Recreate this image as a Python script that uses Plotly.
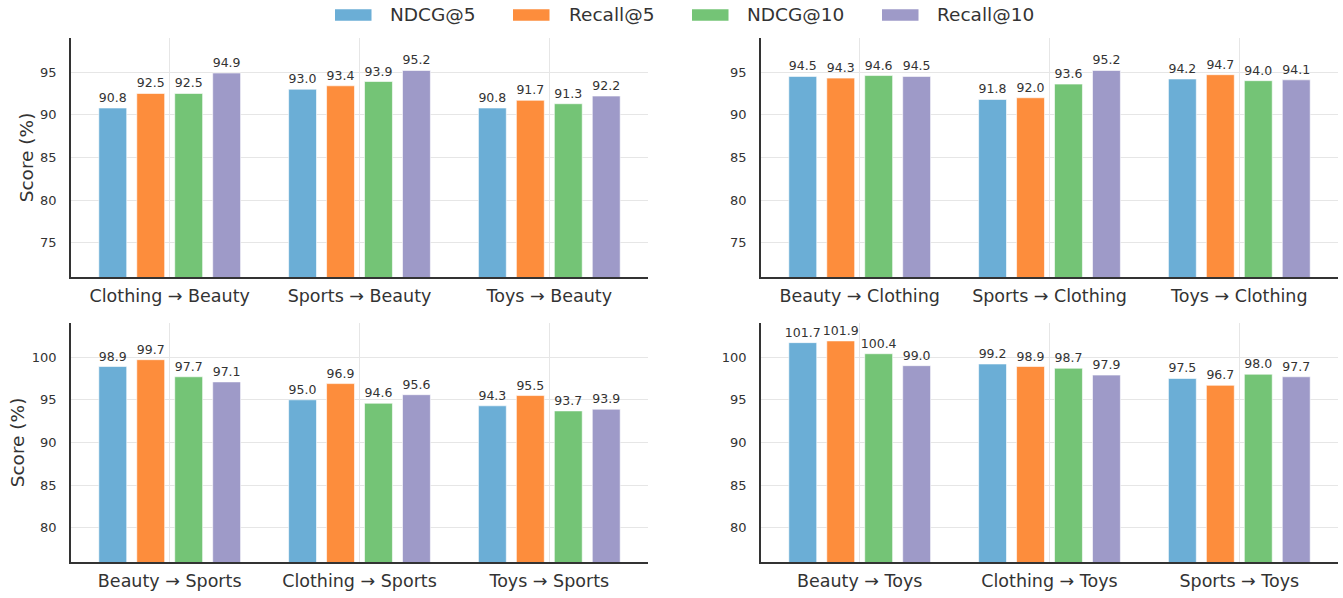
import plotly.graph_objects as go

# ---- data -------------------------------------------------------------
metrics = ["NDCG@5", "Recall@5", "NDCG@10", "Recall@10"]
colors = ["#6baed6", "#fd8d3c", "#74c476", "#9e9ac8"]

beauty_cats = ["Clothing → Beauty", "Sports → Beauty", "Toys → Beauty"]
beauty_ndcg5 = [90.8, 93.0, 90.8]
beauty_recall5 = [92.5, 93.4, 91.7]
beauty_ndcg10 = [92.5, 93.9, 91.3]
beauty_recall10 = [94.9, 95.2, 92.2]

clothing_cats = ["Beauty → Clothing", "Sports → Clothing", "Toys → Clothing"]
clothing_ndcg5 = [94.5, 91.8, 94.2]
clothing_recall5 = [94.3, 92.0, 94.7]
clothing_ndcg10 = [94.6, 93.6, 94.0]
clothing_recall10 = [94.5, 95.2, 94.1]

sports_cats = ["Beauty → Sports", "Clothing → Sports", "Toys → Sports"]
sports_ndcg5 = [98.9, 95.0, 94.3]
sports_recall5 = [99.7, 96.9, 95.5]
sports_ndcg10 = [97.7, 94.6, 93.7]
sports_recall10 = [97.1, 95.6, 93.9]

toys_cats = ["Beauty → Toys", "Clothing → Toys", "Sports → Toys"]
toys_ndcg5 = [101.7, 99.2, 97.5]
toys_recall5 = [101.9, 98.9, 96.7]
toys_ndcg10 = [100.4, 98.7, 98.0]
toys_recall10 = [99.0, 97.9, 97.7]

top_ticks = [75, 80, 85, 90, 95]
bottom_ticks = [80, 85, 90, 95, 100]

# ---- figure geometry (pixels) ----------------------------------------
W, H = 1343, 598
FONT = "DejaVu Sans"
TXT = "#333333"

panels = [
    # (cats, series, axis suffix, x px span, y px span, y range, ticks, y title)
    (beauty_cats, [beauty_ndcg5, beauty_recall5, beauty_ndcg10, beauty_recall10],
     "", (71, 648), (38, 277), [71, 99], top_ticks, True),
    (clothing_cats, [clothing_ndcg5, clothing_recall5, clothing_ndcg10, clothing_recall10],
     "2", (761, 1338), (38, 277), [71, 99], top_ticks, False),
    (sports_cats, [sports_ndcg5, sports_recall5, sports_ndcg10, sports_recall10],
     "3", (71, 648), (323, 562), [76, 104], bottom_ticks, True),
    (toys_cats, [toys_ndcg5, toys_recall5, toys_ndcg10, toys_recall10],
     "4", (761, 1338), (323, 562), [76, 104], bottom_ticks, False),
]

fig = go.Figure()
layout = {}

for cats, series, sfx, (x0, x1), (y0, y1), yr, ticks, ytitle in panels:
    for name, vals, col in zip(metrics, series, colors):
        fig.add_trace(go.Bar(
            x=cats, y=vals, name=name, showlegend=False,
            xaxis="x" + sfx, yaxis="y" + sfx,
            marker=dict(color=col, line=dict(color="rgba(255,255,255,0.6)", width=1)),
            text=[f"{v:.1f}" for v in vals], textposition="outside",
            constraintext="none",
            textfont=dict(family=FONT, size=12.5, color=TXT),
            cliponaxis=False,
        ))
    layout["xaxis" + sfx] = dict(
        domain=[x0 / W, x1 / W], anchor="y" + sfx,
        range=[-0.52, 2.52], showgrid=True, gridcolor="#e6e6e6", gridwidth=1,
        showline=True, linecolor="#333333", linewidth=1.5, ticks="",
        ticklabelstandoff=2,
        tickfont=dict(family=FONT, size=17.5, color=TXT), automargin=False,
        fixedrange=True,
    )
    layout["yaxis" + sfx] = dict(
        domain=[1 - y1 / H, 1 - y0 / H], anchor="x" + sfx,
        range=yr, tickvals=ticks, showgrid=True, gridcolor="#e6e6e6", gridwidth=1,
        showline=True, linecolor="#333333", linewidth=1.5, ticks="",
        ticklabelstandoff=10, zeroline=False,
        tickfont=dict(family=FONT, size=13, color=TXT), automargin=False,
        title=dict(text="Score (%)" if ytitle else "",
                   font=dict(family=FONT, size=18.5, color=TXT), standoff=2),
        fixedrange=True,
    )

# ---- legend drawn across the top ------------------------------------
legend_items = [(335, 388), (513, 567), (692, 745), (882, 935)]
shapes = []
annotations = []
for (sx, tx), name, col in zip(legend_items, metrics, colors):
    shapes.append(dict(type="rect", xref="paper", yref="paper",
                       x0=sx / W, x1=(sx + 36.5) / W, y0=1 - 20.7 / H, y1=1 - 9.3 / H,
                       fillcolor=col, line=dict(width=0)))
    annotations.append(dict(text=name, xref="paper", yref="paper",
                            x=tx / W, y=1 - 15 / H, xanchor="left", yanchor="middle",
                            showarrow=False,
                            font=dict(family=FONT, size=18.5, color=TXT)))

fig.update_layout(
    width=W, height=H, margin=dict(l=0, r=0, t=0, b=0),
    paper_bgcolor="white", plot_bgcolor="white",
    barmode="group", bargap=0.2, bargroupgap=0.265,
    font=dict(family=FONT, color=TXT),
    shapes=shapes, annotations=annotations,
    **layout,
)

fig.write_html("out.html")
